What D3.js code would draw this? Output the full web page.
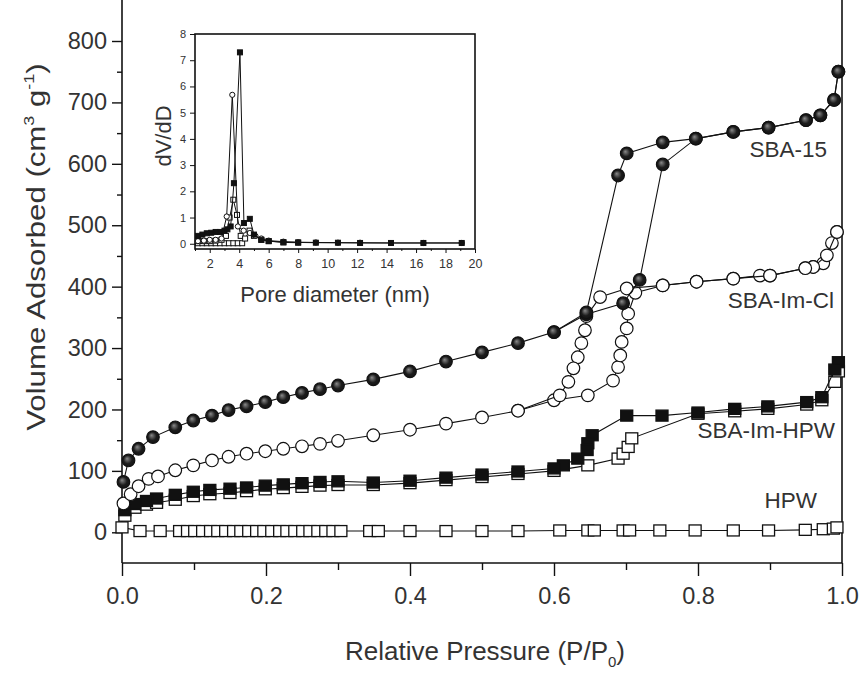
<!DOCTYPE html>
<html>
<head>
<meta charset="utf-8">
<script src="https://cdn.jsdelivr.net/npm/d3@7"></script>
<style>
  body { margin: 0; background: #fff; }
  svg { display: block; font-family: "Liberation Sans", Arial, sans-serif; }
  .tick text { fill: #333; }
</style>
</head>
<body>
<div class="chart"></div>
<script>
// ---- main isotherm data (P/P0 , volume adsorbed) ----
const sba15AdsP = [0.002, 0.009, 0.023, 0.043, 0.074, 0.099, 0.125, 0.148, 0.173, 0.199, 0.224, 0.25, 0.275, 0.30, 0.349, 0.40, 0.45, 0.50, 0.55, 0.60, 0.645, 0.696, 0.719, 0.751, 0.797, 0.849, 0.898, 0.95, 0.97, 0.989, 0.995];
const sba15AdsV = [82, 117, 136, 155, 171, 182, 190, 199, 205, 212, 220, 227, 233, 239, 249, 262, 278, 293, 308, 326, 355, 373, 411, 599, 641, 652, 659, 671, 679, 704, 750];
const sba15DesP = [0.995, 0.989, 0.97, 0.95, 0.898, 0.849, 0.797, 0.751, 0.701, 0.689, 0.645, 0.60];
const sba15DesV = [750, 704, 679, 671, 659, 652, 641, 635, 617, 581, 358, 326];

const imClAdsP = [0.002, 0.012, 0.023, 0.037, 0.05, 0.074, 0.099, 0.125, 0.148, 0.173, 0.199, 0.224, 0.25, 0.275, 0.30, 0.349, 0.40, 0.45, 0.50, 0.55, 0.60, 0.647, 0.682, 0.689, 0.692, 0.694, 0.701, 0.703, 0.713, 0.751, 0.798, 0.849, 0.886, 0.90, 0.949, 0.96, 0.974, 0.986, 0.993];
const imClAdsV = [47, 62, 75, 87, 91, 101, 109, 117, 123, 128, 132, 136, 140, 144, 149, 158, 167, 177, 187, 198, 215, 223, 247, 269, 288, 310, 332, 356, 390, 402, 408, 413, 418, 418, 430, 432, 438, 471, 489];
const imClDesP = [0.993, 0.979, 0.96, 0.949, 0.90, 0.849, 0.798, 0.751, 0.701, 0.664, 0.645, 0.643, 0.638, 0.633, 0.627, 0.62, 0.608, 0.55];
const imClDesV = [489, 451, 432, 430, 418, 413, 408, 402, 397, 383, 352, 329, 308, 285, 267, 245, 223, 198];

const imHpwAdsP = [0.004, 0.018, 0.034, 0.048, 0.074, 0.099, 0.122, 0.15, 0.173, 0.199, 0.224, 0.25, 0.275, 0.30, 0.349, 0.40, 0.45, 0.50, 0.55, 0.60, 0.647, 0.689, 0.696, 0.703, 0.708, 0.80, 0.851, 0.897, 0.951, 0.972, 0.99, 0.995];
const imHpwAdsV = [27, 40, 45, 48, 53, 59, 62, 64, 67, 70, 72, 74, 76, 77, 77, 80, 85, 90, 95, 100, 109, 120, 128, 139, 153, 193, 197, 201, 208, 215, 245, 262];
const imHpwDesP = [0.995, 0.99, 0.972, 0.951, 0.897, 0.851, 0.80, 0.75, 0.701, 0.653, 0.647, 0.646, 0.633, 0.613, 0.60, 0.55, 0.50, 0.45, 0.40, 0.349, 0.30, 0.275, 0.25, 0.224, 0.199, 0.173, 0.15, 0.122, 0.099, 0.074, 0.048, 0.034, 0.018, 0.004];
const imHpwDesV = [277, 265, 220, 212, 205, 201, 195, 190, 190, 158, 145, 134, 120, 109, 104, 99, 94, 89, 84, 81, 83, 82, 80, 78, 76, 73, 71, 69, 66, 61, 55, 51, 46, 36];

const hpwP = [0.0, 0.025, 0.053, 0.08, 0.091, 0.101, 0.112, 0.123, 0.133, 0.144, 0.155, 0.165, 0.176, 0.187, 0.197, 0.208, 0.219, 0.229, 0.240, 0.251, 0.261, 0.272, 0.283, 0.293, 0.304, 0.344, 0.356, 0.40, 0.45, 0.50, 0.55, 0.608, 0.647, 0.656, 0.696, 0.705, 0.747, 0.796, 0.849, 0.898, 0.949, 0.974, 0.988, 0.993];
const hpwV = [8, 2, 2, 2, 2, 2, 2, 2, 2, 2, 2, 2, 2, 2, 2, 2, 2, 2, 2, 2, 2, 2, 2, 2, 2, 2, 2, 2, 2, 2, 2, 3, 3, 3, 3, 3, 3, 3, 3, 3, 4, 5, 6, 8];

// ---- inset pore size distribution (nm , dV/dD) ----
const inAD = [1.2, 1.5, 1.8, 2.1, 2.4, 2.7, 3.0, 3.2, 3.42, 3.64, 4.05, 4.32, 4.72, 5.0, 5.5, 6.0, 7.0, 8.0, 9.2, 10.7, 12.2, 14.3, 16.5, 19.1];
const inAV = [0.3, 0.35, 0.4, 0.42, 0.45, 0.45, 0.5, 0.55, 0.66, 2.31, 7.3, 0.79, 0.95, 0.35, 0.15, 0.1, 0.06, 0.05, 0.04, 0.04, 0.03, 0.03, 0.03, 0.03];
const inBD = [1.2, 1.6, 2.0, 2.4, 2.8, 3.15, 3.53, 3.91, 4.3, 4.72, 5.1, 5.5, 6.0, 7.0, 8.0, 9.2, 10.7, 12.2, 14.3, 16.5, 19.1];
const inBV = [0.1, 0.12, 0.15, 0.15, 0.2, 1.04, 5.68, 0.66, 0.5, 0.41, 0.3, 0.2, 0.12, 0.08, 0.06, 0.05, 0.04, 0.04, 0.03, 0.03, 0.03];
const inCD = [1.2, 1.6, 2.0, 2.4, 2.8, 3.1, 3.35, 3.6, 3.85, 4.1, 4.4, 4.7, 5.0, 5.5, 6.0, 7.0, 8.0];
const inCV = [0.1, 0.1, 0.1, 0.12, 0.15, 0.3, 1.0, 1.68, 1.1, 0.3, 0.2, 0.5, 0.3, 0.15, 0.1, 0.05, 0.04];
const inDD = [1.2, 1.5, 1.8, 2.1, 2.4, 2.7, 3.0, 3.3, 3.6, 3.9, 4.2];
const inDV = [0.02, 0.02, 0.02, 0.02, 0.02, 0.02, 0.02, 0.02, 0.02, 0.02, 0.02];

const xTicks = [0, 0.2, 0.4, 0.6, 0.8, 1.0];
const xMinor = [0.1, 0.3, 0.5, 0.7, 0.9];
const yTicks = [0, 100, 200, 300, 400, 500, 600, 700, 800];
const yMinor = [50, 150, 250, 350, 450, 550, 650, 750];
const inXTicks = [2, 4, 6, 8, 10, 12, 14, 16, 18, 20];
const inXMinor = [1, 3, 5, 7, 9, 11, 13, 15, 17, 19];
const inYTicks = [0, 1, 2, 3, 4, 5, 6, 7, 8];

const zip = (a, b) => a.map((v, i) => [v, b[i]]);

const svg = d3.select('.chart').append('svg').attr('width', 861).attr('height', 673);

const defs = svg.append('defs');
const grad = defs.append('radialGradient').attr('id', 'gloss').attr('fx', '0.38').attr('fy', '0.35').attr('r', '0.6');
grad.append('stop').attr('offset', '0%').attr('stop-color', '#8a8a8a');
grad.append('stop').attr('offset', '55%').attr('stop-color', '#1c1c1c');
grad.append('stop').attr('offset', '100%').attr('stop-color', '#111');

// scales
const x = d3.scaleLinear().domain([0, 1]).range([122, 842]);
const y = d3.scaleLinear().domain([-50, 800]).range([563, 41]);

// axes
const gx = svg.append('g').attr('transform', `translate(0,${y(-50)})`)
    .call(d3.axisBottom(x).tickValues(xTicks).tickFormat(d3.format('.1f')).tickSize(13).tickPadding(11));
svg.append('g').attr('transform', `translate(0,${y(-50)})`)
    .call(d3.axisBottom(x).tickValues(xMinor).tickFormat('').tickSize(7));
const gy = svg.append('g').attr('transform', `translate(${x(0)},0)`)
    .call(d3.axisLeft(y).tickValues(yTicks).tickSize(10).tickPadding(5));
svg.append('g').attr('transform', `translate(${x(0)},0)`)
    .call(d3.axisLeft(y).tickValues(yMinor).tickFormat('').tickSize(5));
svg.selectAll('.domain').remove();
svg.selectAll('.tick line').attr('stroke', '#111').attr('stroke-width', 1.4);
gx.selectAll('text').attr('font-size', 23.5);
gy.selectAll('text').attr('font-size', 23.5);

// frame (top is cut off in the original)
const frame = svg.append('g').attr('stroke', '#111').attr('stroke-width', 1.6).attr('fill', 'none');
frame.append('line').attr('x1', x(0)).attr('x2', x(0)).attr('y1', 0).attr('y2', y(-50));
frame.append('line').attr('x1', x(1)).attr('x2', x(1)).attr('y1', 0).attr('y2', y(-50));
frame.append('line').attr('x1', x(0)).attr('x2', x(1)).attr('y1', y(-50)).attr('y2', y(-50));

// series drawing
const line = d3.line().x(d => x(d[0])).y(d => y(d[1]));
function drawSeries(pts, marker, fill) {
    const g = svg.append('g');
    g.append('path').datum(pts).attr('d', line).attr('fill', 'none').attr('stroke', '#111').attr('stroke-width', 1.1);
    if (marker === 'circle') {
        g.selectAll('circle').data(pts).enter().append('circle')
            .attr('cx', d => x(d[0])).attr('cy', d => y(d[1])).attr('r', 6.3)
            .attr('fill', fill).attr('stroke', '#111').attr('stroke-width', 1.2);
    } else {
        g.selectAll('rect').data(pts).enter().append('rect')
            .attr('x', d => x(d[0]) - 6).attr('y', d => y(d[1]) - 5.5)
            .attr('width', 12).attr('height', 11)
            .attr('fill', fill).attr('stroke', '#111').attr('stroke-width', 1.3);
    }
}

drawSeries(zip(hpwP, hpwV), 'rect', '#fff');
drawSeries(zip(imHpwAdsP, imHpwAdsV), 'rect', '#fff');
drawSeries(zip(imHpwDesP, imHpwDesV), 'rect', '#111');
drawSeries(zip(imClAdsP, imClAdsV), 'circle', '#fff');
drawSeries(zip(imClDesP, imClDesV), 'circle', '#fff');
drawSeries(zip(sba15AdsP, sba15AdsV), 'circle', 'url(#gloss)');
drawSeries(zip(sba15DesP, sba15DesV), 'circle', 'url(#gloss)');

// series labels
const labels = [
    { t: 'SBA-15', x: 827, y: 157 },
    { t: 'SBA-Im-Cl', x: 834, y: 308 },
    { t: 'SBA-Im-HPW', x: 835, y: 438 },
    { t: 'HPW', x: 817, y: 508 }
];
svg.append('g').selectAll('text').data(labels).enter().append('text')
    .attr('x', d => d.x).attr('y', d => d.y).attr('text-anchor', 'end')
    .attr('font-size', 22.5).attr('fill', '#333').text(d => d.t);

// axis titles
const xt = svg.append('text').attr('x', 485).attr('y', 660).attr('text-anchor', 'middle')
    .attr('font-size', 26).attr('fill', '#333');
xt.append('tspan').text('Relative Pressure (P/P');
xt.append('tspan').text('0').attr('font-size', 15).attr('dy', 7);
xt.append('tspan').text(')').attr('dy', -7);

const yt = svg.append('text').attr('transform', 'translate(45,247) rotate(-90) scale(1.2,1)').attr('text-anchor', 'middle')
    .attr('font-size', 26).attr('fill', '#333');
yt.append('tspan').text('Volume Adsorbed (cm');
yt.append('tspan').text('3').attr('font-size', 15).attr('dy', -11);
yt.append('tspan').text(' g').attr('dy', 11);
yt.append('tspan').text('-1').attr('font-size', 15).attr('dy', -11);
yt.append('tspan').text(')').attr('dy', 11);

// ---- inset ----
const xi = d3.scaleLinear().domain([1, 20]).range([195, 475]);
const yi = d3.scaleLinear().domain([-0.2, 8]).range([249, 34]);
const inset = svg.append('g');
inset.append('rect').attr('x', xi(1)).attr('y', yi(8)).attr('width', xi(20) - xi(1)).attr('height', yi(-0.2) - yi(8))
    .attr('fill', '#fff').attr('stroke', '#111').attr('stroke-width', 1.6);

const gix = inset.append('g').attr('transform', `translate(0,${yi(-0.2)})`)
    .call(d3.axisBottom(xi).tickValues(inXTicks).tickSize(4).tickPadding(6));
inset.append('g').attr('transform', `translate(0,${yi(-0.2)})`)
    .call(d3.axisBottom(xi).tickValues(inXMinor).tickFormat('').tickSize(2));
const giy = inset.append('g').attr('transform', `translate(${xi(1)},0)`)
    .call(d3.axisLeft(yi).tickValues(inYTicks).tickSize(5).tickPadding(4));
inset.selectAll('.domain').remove();
inset.selectAll('.tick line').attr('stroke', '#111');
gix.selectAll('text').attr('font-size', 12.5);
giy.selectAll('text').attr('font-size', 11);

const iline = d3.line().x(d => xi(d[0])).y(d => yi(d[1]));
function drawInset(pts, marker, fill) {
    const g = inset.append('g');
    g.append('path').datum(pts).attr('d', iline).attr('fill', 'none').attr('stroke', '#111').attr('stroke-width', 1);
    if (marker === 'circle') {
        g.selectAll('circle').data(pts).enter().append('circle')
            .attr('cx', d => xi(d[0])).attr('cy', d => yi(d[1])).attr('r', 2.6)
            .attr('fill', fill).attr('stroke', '#111').attr('stroke-width', 1);
    } else {
        g.selectAll('rect').data(pts).enter().append('rect')
            .attr('x', d => xi(d[0]) - 2.5).attr('y', d => yi(d[1]) - 2.5)
            .attr('width', 5).attr('height', 5)
            .attr('fill', fill).attr('stroke', '#111').attr('stroke-width', 1);
    }
}
drawInset(zip(inDD, inDV), 'rect', '#fff');
drawInset(zip(inCD, inCV), 'rect', '#fff');
drawInset(zip(inBD, inBV), 'circle', '#fff');
drawInset(zip(inAD, inAV), 'rect', '#111');

inset.append('text').attr('transform', 'translate(171,136) rotate(-90)').attr('text-anchor', 'middle')
    .attr('font-size', 22).attr('fill', '#333').text('dV/dD');
inset.append('text').attr('x', 335).attr('y', 302).attr('text-anchor', 'middle')
    .attr('font-size', 22).attr('fill', '#333').text('Pore diameter (nm)');
</script>
</body>
</html>
